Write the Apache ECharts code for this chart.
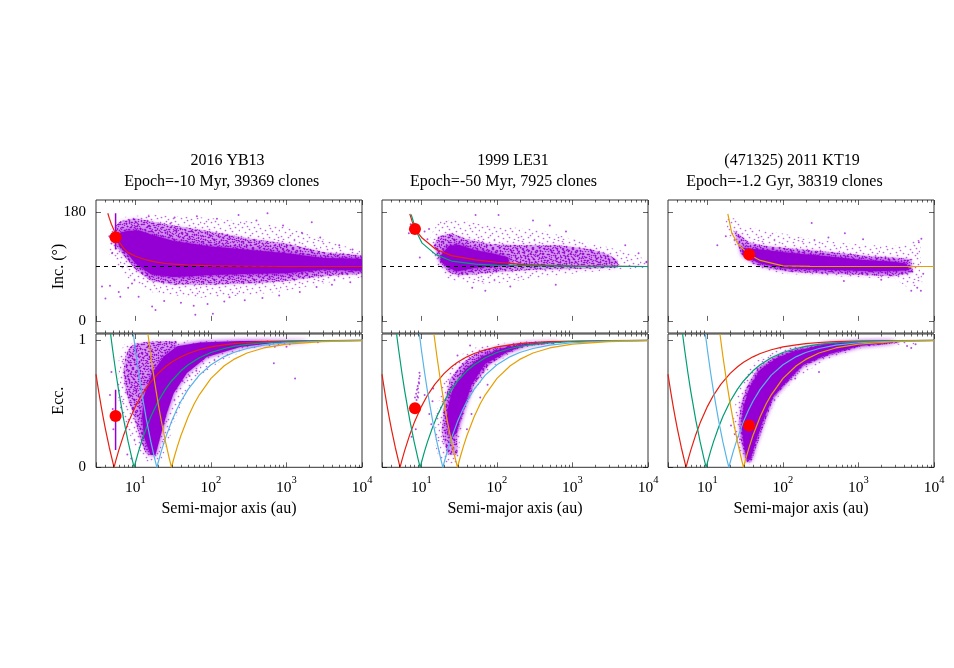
<!DOCTYPE html>
<html>
<head>
<meta charset="utf-8">
<style>
  html, body { margin: 0; padding: 0; background: #fff; }
  #chart { width: 954px; height: 668px; }
</style>
</head>
<body>
<div id="chart"></div>
<script src="https://cdn.jsdelivr.net/npm/echarts@6/dist/echarts.min.js"></script>
<script>
const titleNames = ["2016 YB13", "1999 LE31", "(471325) 2011 KT19"];
const titleEpochs = ["Epoch=-10 Myr, 39369 clones", "Epoch=-50 Myr, 7925 clones", "Epoch=-1.2 Gyr, 38319 clones"];
const decadeTicks = [10, 100, 1000, 10000];
const minorTicks = [4, 5, 6, 7, 8, 9, 20, 30, 40, 50, 60, 70, 80, 90, 200, 300, 400, 500, 600, 700, 800, 900, 2000, 3000, 4000, 5000, 6000, 7000, 8000, 9000];
const incTicks = [0, 180];
const eccTicks = [0, 1];
const polarLine = [[3, 90], [10000, 90]];

// constant-perihelion/aphelion lines of the giant planets
const jupiterEcc = [[3, 0.733], [3.25, 0.6], [3.5, 0.486], [3.75, 0.387], [4, 0.3], [4.5, 0.156], [5.2, 0], [5.5, 0.055], [6, 0.133], [7, 0.257], [8, 0.35], [10, 0.48], [12, 0.567], [15, 0.653], [20, 0.74], [25, 0.792], [30, 0.827], [40, 0.87], [50, 0.896], [70, 0.926], [100, 0.948], [150, 0.965], [200, 0.974], [300, 0.983], [500, 0.99], [1000, 0.995], [3000, 0.998], [10000, 0.999]];
const saturnEcc = [[4.68, 1.05], [5, 0.92], [5.5, 0.745], [6, 0.6], [7, 0.371], [8, 0.2], [9, 0.067], [9.6, 0], [10, 0.04], [11, 0.127], [12, 0.2], [14, 0.314], [16, 0.4], [20, 0.52], [25, 0.616], [30, 0.68], [40, 0.76], [50, 0.808], [70, 0.863], [100, 0.904], [150, 0.936], [200, 0.952], [300, 0.968], [500, 0.981], [1000, 0.99], [3000, 0.997], [10000, 0.999]];
const uranusEcc = [[9.37, 1.05], [10, 0.92], [11, 0.745], [12, 0.6], [14, 0.371], [16, 0.2], [18, 0.067], [19.2, 0], [20, 0.04], [22, 0.127], [25, 0.232], [30, 0.36], [35, 0.451], [40, 0.52], [50, 0.616], [70, 0.726], [100, 0.808], [150, 0.872], [200, 0.904], [300, 0.936], [500, 0.962], [1000, 0.981], [3000, 0.994], [10000, 0.998]];
const neptuneEcc = [[14.63, 1.05], [16, 0.875], [18, 0.667], [20, 0.5], [22, 0.364], [25, 0.2], [28, 0.071], [30, 0], [31, 0.032], [33, 0.091], [36, 0.167], [40, 0.25], [50, 0.4], [60, 0.5], [70, 0.571], [100, 0.7], [150, 0.8], [200, 0.85], [300, 0.9], [500, 0.94], [1000, 0.97], [3000, 0.99], [10000, 0.997]];

const redInc1 = [[4.3, 178], [4.5, 170], [4.8, 160], [5.2, 150], [5.8, 137], [6.3, 128], [7, 120], [8, 113], [10, 107], [13, 102], [17.5, 98], [25, 95], [32, 94], [50, 92.5], [100, 91], [300, 90.4], [1000, 90], [10000, 90]];
const redInc2 = [[7, 177], [7.5, 165], [8.2, 152], [10.2, 137], [15.3, 119], [25, 108], [52, 101], [100, 97], [234, 93], [1000, 90.5], [10000, 90]];
const greenInc2 = [[7.3, 176], [8, 160], [9, 142], [10.2, 128.6], [15.3, 110], [25, 99], [52, 94], [100, 92], [1000, 90.5], [10000, 90]];
const orangeInc3 = [[18.6, 177], [21, 145], [25.7, 126], [35.6, 110], [50, 100], [100, 91], [228, 90.2], [1000, 90], [10000, 90]];

// clones: solid part of each cloud, thinner part, outer haze, then stray dots
const coreInc1 = [[6.3, 146], [8, 149], [11.6, 149], [16, 143], [32, 132], [100, 123], [366, 117], [1000, 112], [3070, 104], [10000, 103], [10000, 83], [3070, 85], [1000, 79], [366, 78], [100, 76], [32, 72.5], [16, 77], [10, 95], [8, 110], [6.3, 122], [5.6, 135]];
const thinInc1 = [[5.5, 158], [6.3, 165], [10, 170], [16, 165], [32, 158], [100, 148], [366, 135], [1000, 128], [3070, 114], [10000, 108], [10000, 78], [3070, 74], [1000, 66], [366, 62], [100, 60], [32, 60], [16, 66], [10, 85], [7, 108], [5.2, 128]];
const hazeInc1 = [[4.5, 150], [7, 172], [16, 176], [65, 172], [300, 165], [1000, 155], [3000, 135], [10000, 115], [10000, 72], [3000, 62], [1000, 50], [300, 42], [60, 38], [16, 48], [8, 70], [4.5, 110]];
const strayInc1 = [[3.6, 57], [4.6, 58], [4, 37], [6, 48], [6.3, 40], [16.6, 24], [18.4, 18], [59, 25], [62, 10], [106, 12], [176, 39], [15, 173], [29, 161], [65, 173], [232, 175], [560, 178], [2160, 163], [4.5, 140], [4.8, 128], [4.9, 112], [33, 171], [120, 169], [400, 166], [900, 158], [1600, 146], [2800, 138], [5000, 125], [7500, 118], [9, 62], [8, 55], [11, 40], [24, 33], [40, 30], [90, 28], [150, 32], [280, 34], [480, 38], [800, 42], [1500, 48], [2500, 56], [4000, 60], [7000, 64]];
const strip1Inc = [[5.45, 178], [5.45, 118]];

const coreEcc1 = [[12.2, 0.4], [12.9, 0.558], [16.6, 0.742], [23.7, 0.874], [35.5, 0.953], [72, 0.984], [244, 0.995], [1850, 0.997], [1850, 0.99], [671, 0.979], [244, 0.947], [88, 0.868], [48, 0.742], [32, 0.584], [26, 0.426], [21.4, 0.242], [18.4, 0.097], [15.8, 0.097], [12.9, 0.242]];
const thinEcc1 = [[7, 0.78], [7.4, 0.88], [8.5, 0.95], [10, 0.975], [16, 0.99], [35, 0.995], [35, 0.96], [23.7, 0.874], [16.6, 0.742], [12.9, 0.558], [12.2, 0.4], [12.9, 0.242], [15.8, 0.097], [13.6, 0.11], [11.6, 0.22], [9.5, 0.4], [7.5, 0.59], [7, 0.7]];
const hazeEcc1 = [[5.8, 0.6], [6, 0.85], [7, 0.97], [16, 0.995], [100, 0.999], [1500, 0.999], [1500, 0.985], [300, 0.93], [130, 0.83], [70, 0.72], [48, 0.6], [36, 0.42], [28, 0.22], [22, 0.05], [15, 0.03], [11, 0.12], [8, 0.28], [6.3, 0.42]];
const strayEcc1 = [[4.8, 0.75], [4.6, 0.57], [5, 0.46], [5.1, 0.3], [7.8, 0.1], [8.8, 0.07], [35, 0.62], [42, 0.68], [52, 0.72], [64, 0.76], [680, 0.82], [1300, 0.7], [700, 0.95], [1100, 0.97], [1000, 0.95], [2600, 0.985]];
const strip1Ecc = [[5.45, 0.61], [5.45, 0.137]];

const coreInc2 = [[18, 108], [23, 124], [31, 126], [52, 117], [86, 112], [142, 105], [142, 92], [86, 90], [52, 88], [31, 82], [23, 87], [18, 98]];
const thinInc2 = [[14.5, 125], [17, 140], [25, 145], [40, 135], [86, 127], [237, 125], [652, 125], [1082, 122], [1800, 118], [2980, 110], [4000, 100], [4000, 88], [1082, 86], [393, 85], [142, 82], [52, 77], [31, 75], [23, 80], [17, 100]];
const hazeInc2 = [[13, 140], [17, 165], [30, 168], [60, 160], [150, 155], [400, 150], [1000, 135], [3000, 122], [6000, 112], [10000, 100], [10000, 88], [3000, 84], [1000, 78], [300, 70], [100, 62], [40, 62], [20, 72], [14, 105]];
const strayInc2 = [[7, 151], [6.8, 145], [7.2, 160], [9.5, 105], [12, 135], [12.6, 152], [11, 148], [52, 175], [105, 175], [300, 166], [500, 158], [820, 148], [7500, 112], [5000, 125], [9500, 97], [47, 55], [150, 57], [70, 50], [600, 60]];

const coreEcc2 = [[22, 0.33], [22, 0.45], [25.4, 0.6], [38, 0.77], [63, 0.87], [116, 0.935], [237, 0.972], [600, 0.992], [600, 0.988], [237, 0.96], [142, 0.915], [70, 0.815], [46, 0.65], [36, 0.46], [29, 0.28], [25, 0.22]];
const thinEcc2 = [[18.5, 0.28], [20, 0.5], [24, 0.7], [36, 0.83], [60, 0.92], [116, 0.955], [237, 0.985], [800, 0.995], [800, 0.985], [237, 0.953], [142, 0.905], [80, 0.81], [50, 0.65], [37, 0.46], [30, 0.27], [30, 0.1], [22, 0.1]];
const hazeEcc2 = [[15, 0.18], [15.5, 0.42], [19, 0.65], [25, 0.8], [36, 0.9], [60, 0.96], [116, 0.98], [237, 0.99], [1000, 0.998], [1000, 0.99], [237, 0.945], [142, 0.89], [80, 0.77], [50, 0.6], [37, 0.42], [32, 0.2], [31, 0.03], [22, 0.03], [17, 0.08]];
const strayEcc2 = [[8.2, 0.55], [8.5, 0.58], [8.7, 0.61], [8.9, 0.64], [9, 0.62], [9.2, 0.67], [9.3, 0.7], [9.4, 0.745], [9.1, 0.59], [8.8, 0.56], [9.5, 0.72], [9.3, 0.66], [8.6, 0.53], [9, 0.55], [7.4, 0.24], [8.4, 0.3], [11, 0.57], [12.7, 0.42], [13.5, 0.34], [14, 0.52], [14.3, 0.62], [40, 0.3], [46, 0.42], [60, 0.55], [75, 0.65], [30, 0.88], [44, 0.96]];

const coreInc3 = [[28, 122], [31, 120], [50, 118], [137, 112], [378, 107], [1040, 101], [2870, 98], [4300, 95], [4770, 84], [1730, 82], [627, 84], [228, 85], [100, 87], [50, 95], [30, 108]];
const thinInc3 = [[22, 150], [27, 142], [35, 130], [60, 124], [150, 119], [500, 113], [1500, 107], [3000, 105], [5000, 102], [5300, 80], [3000, 74], [1000, 76], [400, 78], [137, 81], [60, 87], [40, 95], [28, 110]];
const hazeInc3 = [[17, 170], [25, 170], [35, 155], [60, 150], [150, 140], [500, 130], [1500, 125], [4000, 125], [6500, 137], [7000, 60], [4500, 55], [3000, 70], [1000, 72], [300, 75], [100, 78], [50, 85], [30, 105], [20, 130]];
const strayInc3 = [[13.5, 125], [17.5, 140], [240, 162], [660, 145], [400, 138], [1150, 135], [6800, 136], [6300, 130], [7200, 78], [5000, 50], [6700, 50], [6000, 55], [640, 66], [2000, 68]];

const coreEcc3 = [[30, 0.189], [28.4, 0.321], [30, 0.479], [36.6, 0.637], [50, 0.768], [82.6, 0.86], [137, 0.913], [378, 0.971], [1040, 0.989], [2870, 0.995], [2870, 0.984], [1040, 0.958], [378, 0.887], [186, 0.808], [112, 0.676], [74.5, 0.558], [55, 0.374], [42.7, 0.189], [37, 0.06], [33, 0.06]];
const thinEcc3 = [[26, 0.36], [28, 0.5], [33, 0.63], [46, 0.78], [80, 0.875], [137, 0.925], [378, 0.975], [1040, 0.992], [3500, 0.997], [3500, 0.98], [1040, 0.95], [378, 0.875], [186, 0.795], [112, 0.66], [74.5, 0.54], [58, 0.36], [45, 0.17], [38, 0.04], [33, 0.04], [28, 0.2]];
const hazeEcc3 = [[21, 0.3], [24, 0.55], [30, 0.72], [45, 0.85], [100, 0.95], [300, 0.98], [1000, 0.99], [5500, 0.996], [5500, 0.965], [2500, 0.965], [1000, 0.935], [350, 0.84], [150, 0.7], [90, 0.57], [60, 0.38], [45, 0.18], [38, 0.02], [33, 0.02], [26, 0.15]];
const strayEcc3 = [[20.5, 0.33], [23, 0.26], [27, 0.22], [300, 0.75], [145, 0.7], [5000, 0.94], [5700, 0.97], [4400, 0.955], [4000, 0.992]];

const dotA = [5.45, 8.2, 35.6];
const dotInc = [138.5, 152, 110];
const dotEcc = [0.405, 0.466, 0.329];

const coresInc = [coreInc1, coreInc2, coreInc3];
const thinsInc = [thinInc1, thinInc2, thinInc3];
const hazesInc = [hazeInc1, hazeInc2, hazeInc3];
const straysInc = [strayInc1, strayInc2, strayInc3];
const coresEcc = [coreEcc1, coreEcc2, coreEcc3];
const thinsEcc = [thinEcc1, thinEcc2, thinEcc3];
const hazesEcc = [hazeEcc1, hazeEcc2, hazeEcc3];
const straysEcc = [strayEcc1, strayEcc2, strayEcc3];
const incCurves = [
  [[redInc1, "#e51e10"]],
  [[redInc2, "#e51e10"], [greenInc2, "#009e73"]],
  [[orangeInc3, "#e69f00"]],
];
const eccCurves = [[jupiterEcc, "#e51e10"], [saturnEcc, "#009e73"], [uranusEcc, "#56b4e9"], [neptuneEcc, "#e69f00"]];

const PURPLE = "#9400d3";
const FONT = "Liberation Serif";
const panelLeft = [96, 382, 668];
const titleNameX = [227.5, 513, 792];
const titleEpochX = [221.7, 503.5, 784.5];
const PANEL_W = 266;

// speckle used to fill the thinner parts of the clouds
const speckle = [[2, 1], [3, 3], [9, 2], [14, 0], [15, 4], [22, 3], [27, 1], [33, 2], [34, 5], [38, 0], [0, 7], [6, 6], [7, 9], [12, 8], [19, 7], [20, 10], [25, 6], [30, 9], [36, 8], [39, 11], [3, 12], [10, 13], [16, 12], [17, 15], [23, 13], [28, 14], [32, 12], [35, 15], [1, 17], [5, 16], [8, 19], [13, 18], [21, 18], [26, 17], [27, 20], [31, 19], [37, 18], [0, 22], [4, 23], [11, 22], [15, 21], [18, 24], [24, 22], [29, 25], [33, 23], [38, 24], [2, 27], [7, 26], [9, 29], [14, 27], [20, 28], [25, 30], [30, 28], [35, 27], [39, 30], [5, 32], [12, 33], [16, 31], [22, 33], [27, 34], [32, 31], [36, 34], [1, 36], [8, 37], [10, 35], [18, 36], [23, 38], [29, 37], [34, 39], [38, 37], [3, 39], [14, 39], [6, 21], [19, 2], [37, 13]];

function makeTile(offsets, radius, alpha) {
  const size = 40;
  const canvas = document.createElement("canvas");
  canvas.width = size;
  canvas.height = size;
  const ctx = canvas.getContext("2d");
  ctx.fillStyle = "rgba(148,0,211," + alpha + ")";
  offsets.forEach(([ox, oy]) => {
    speckle.forEach(([x, y]) => {
      ctx.beginPath();
      ctx.arc((x + ox) % size + 0.5, (y + oy) % size + 0.5, radius, 0, Math.PI * 2);
      ctx.fill();
    });
  });
  return { image: canvas, repeat: "repeat" };
}
const hazeFill = makeTile([[0, 0]], 0.85, 0.6);
const thinFill = makeTile([[0, 0], [13, 27], [29, 9], [7, 33], [21, 17], [35, 23]], 0.8, 0.8);

const chart = echarts.init(document.getElementById("chart"));

const grids = [], xAxes = [], yAxes = [], series = [], titleOpts = [];

function polygonSeries(g, verts, fill, blur) {
  return {
    type: "custom", xAxisIndex: g, yAxisIndex: g * 2, data: verts, encode: { x: 0, y: 1 }, silent: true, z: 3, clip: true,
    renderItem(params, api) {
      if (params.dataIndex !== 0) return;
      const style = { fill };
      if (blur) {
        style.shadowBlur = blur;
        style.shadowColor = PURPLE;
      }
      return { type: "polygon", shape: { points: verts.map((v) => api.coord(v)) }, style, silent: true };
    },
  };
}

function tickSeries(g, values, yMin, yMax, len, both) {
  return {
    type: "custom", xAxisIndex: g, yAxisIndex: g * 2, data: values.map((v) => [v]), encode: { x: 0 }, silent: true, z: 12,
    renderItem(params, api) {
      const lo = api.coord([api.value(0), yMin]);
      const hi = api.coord([api.value(0), yMax]);
      const style = { stroke: "rgba(0,0,0,0.6)", lineWidth: 1 };
      const x = Math.round(lo[0]) + 0.5;
      const children = [{ type: "line", shape: { x1: x, y1: hi[1], x2: x, y2: hi[1] + len }, style }];
      if (both) children.push({ type: "line", shape: { x1: x, y1: lo[1], x2: x, y2: lo[1] - len }, style });
      return { type: "group", children };
    },
  };
}

function lineSeries(g, data, color, z, width) {
  return {
    type: "line", xAxisIndex: g, yAxisIndex: g * 2, data, symbol: "none", z, silent: true, clip: true,
    lineStyle: { color, width: width || 1.2 },
  };
}

function scatterSeries(g, data, size, opacity) {
  return {
    type: "scatter", xAxisIndex: g, yAxisIndex: g * 2, data, symbolSize: size, z: 4, silent: true,
    itemStyle: { color: PURPLE, opacity },
  };
}

function dotSeries(g, point) {
  return {
    type: "scatter", xAxisIndex: g, yAxisIndex: g * 2, data: [point], symbolSize: 12, z: 11, silent: true,
    itemStyle: { color: "#ff0000", opacity: 1 },
  };
}

function cloudSeries(g, haze, thin, core, stray) {
  series.push(polygonSeries(g, haze, hazeFill));
  series.push(polygonSeries(g, thin, "rgba(148,0,211,0.22)", 4));
  series.push(polygonSeries(g, thin, thinFill));
  series.push(polygonSeries(g, core, PURPLE, 5));
  series.push(scatterSeries(g, stray, 2, 0.7));
}

function addPanel(g, left, top, height, yMin, yMax, ticks, opts) {
  grids.push({ left, top, width: PANEL_W, height, show: true, borderColor: "#333", borderWidth: 1, backgroundColor: "transparent", containLabel: false });
  xAxes.push({
    type: "log", logBase: 10, gridIndex: g, min: 3, max: 10000, position: "bottom",
    axisLine: { show: false }, splitLine: { show: false }, minorTick: { show: false },
    axisTick: { show: true, inside: true, length: 5, lineStyle: { color: "rgba(0,0,0,0.6)" } },
    axisLabel: {
      show: opts.xLabels, margin: 7, color: "#000", fontFamily: FONT, hideOverlap: false,
      formatter: (v) => {
        const n = Math.round(Math.log10(v));
        return Math.abs(Math.pow(10, n) - v) < 1e-6 && n >= 1 ? "{n|10}{s|" + n + "}" : "";
      },
      rich: {
        n: { fontSize: 15.5, fontFamily: FONT, color: "#000", lineHeight: 22, verticalAlign: "bottom" },
        s: { fontSize: 10.5, fontFamily: FONT, color: "#000", lineHeight: 12, verticalAlign: "top" },
      },
    },
    name: opts.xLabels ? "Semi-major axis (au)" : "", nameLocation: "middle", nameGap: 33,
    nameTextStyle: { color: "#000", fontFamily: FONT, fontSize: 16 },
  });
  const yTick = { show: true, inside: true, length: 5, customValues: ticks, lineStyle: { color: "rgba(0,0,0,0.6)" } };
  yAxes.push({
    type: "value", gridIndex: g, min: yMin, max: yMax, position: "left",
    axisLine: { show: false }, splitLine: { show: false }, axisTick: yTick,
    axisLabel: { show: opts.yLabels, customValues: ticks, margin: 10, color: "#000", fontFamily: FONT, fontSize: 15 },
    name: opts.yLabels ? opts.yName : "", nameLocation: "middle", nameGap: 29, nameRotate: 90, nameMoveOverlap: false,
    nameTextStyle: { color: "#000", fontFamily: FONT, fontSize: 16 },
  });
  yAxes.push({
    type: "value", gridIndex: g, min: yMin, max: yMax, position: "right",
    axisLine: { show: false }, splitLine: { show: false }, axisTick: yTick, axisLabel: { show: false },
  });
  series.push(tickSeries(g, minorTicks, yMin, yMax, 2.5, true));
  series.push(tickSeries(g, decadeTicks, yMin, yMax, 5, false));
}

panelLeft.forEach((left, i) => {
  const top = i * 2, low = i * 2 + 1;
  const titleStyle = { fontFamily: FONT, fontSize: 16, fontWeight: "normal", color: "#000" };
  titleOpts.push({ text: titleNames[i], left: titleNameX[i], top: 153, textAlign: "center", padding: 0, textStyle: titleStyle });
  titleOpts.push({ text: titleEpochs[i], left: titleEpochX[i], top: 174, textAlign: "center", padding: 0, textStyle: titleStyle });

  addPanel(top, left, 200, 133, -20, 200, incTicks, { xLabels: false, yLabels: i === 0, yName: "Inc. (°)" });
  addPanel(low, left, 334, 133.3, 0, 1.05, eccTicks, { xLabels: true, yLabels: i === 0, yName: "Ecc." });

  series.push({
    type: "line", xAxisIndex: top, yAxisIndex: top * 2, data: polarLine, symbol: "none", z: 7, silent: true,
    lineStyle: { color: "#000", width: 1, type: [4, 4] },
  });
  cloudSeries(top, hazesInc[i], thinsInc[i], coresInc[i], straysInc[i]);
  incCurves[i].forEach(([data, color]) => series.push(lineSeries(top, data, color, 8)));
  series.push(dotSeries(top, [dotA[i], dotInc[i]]));

  cloudSeries(low, hazesEcc[i], thinsEcc[i], coresEcc[i], straysEcc[i]);
  eccCurves.forEach(([data, color]) => series.push(lineSeries(low, data, color, 8)));
  series.push(dotSeries(low, [dotA[i], dotEcc[i]]));
});

series.push(lineSeries(0, strip1Inc, PURPLE, 5, 1.5));
series.push(lineSeries(1, strip1Ecc, PURPLE, 5, 1.5));

chart.setOption({
  animation: false,
  backgroundColor: "#fff",
  title: titleOpts,
  grid: grids,
  xAxis: xAxes,
  yAxis: yAxes,
  series,
});
</script>
</body>
</html>
